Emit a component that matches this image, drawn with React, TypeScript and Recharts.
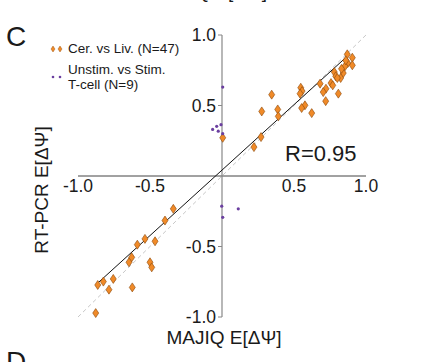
import {
  ScatterChart,
  Scatter,
  XAxis,
  YAxis,
  ReferenceLine,
  ReferenceDot,
} from "recharts";

// Cer. vs Liv. (N=47): MAJIQ vs RT-PCR dPSI
const cerLivX = [
  0.87, 0.905, 0.873, 0.905, 0.854, 0.78, 0.842, 0.79, 0.824, 0.801, 0.757,
  0.769, 0.722, 0.703, 0.681, 0.808, 0.72, 0.547, 0.556, 0.542, 0.576, 0.553,
  0.623, 0.83, 0.86, 0.005, 0.222, 0.271, 0.276, 0.345, 0.387, 0.391, -0.338,
  -0.396, -0.535, -0.465, -0.588, -0.627, -0.646, -0.5, -0.488, -0.755, -0.824,
  -0.863, -0.785, -0.623, -0.877,
];
const cerLivY = [
  0.863, 0.839, 0.801, 0.785, 0.778, 0.737, 0.73, 0.707, 0.695, 0.695, 0.659,
  0.643, 0.619, 0.595, 0.655, 0.584, 0.531, 0.626, 0.602, 0.584, 0.501, 0.482,
  0.446, 0.76, 0.82, 0.271, 0.205, 0.276, 0.458, 0.577, 0.472, 0.423, -0.233,
  -0.316, -0.446, -0.463, -0.487, -0.577, -0.612, -0.612, -0.648, -0.73,
  -0.749, -0.773, -0.806, -0.79, -0.972,
];

// Unstim. vs Stim. T-cell (N=9)
const tcellX = [0.005, -0.065, -0.037, -0.007, -0.026, 0.005, -0.002, 0.113, 0.005];
const tcellY = [0.631, 0.33, 0.352, 0.364, 0.318, 0.3, -0.214, -0.233, -0.293];

const xTicks = [-1, -0.5, 0.5, 1];
const yTicks = [1, 0.5, -0.5, -1];

// linear fit endpoints and identity line
const fitX = [-0.87, 0.877];
const fitY = [-0.766, 0.856];
const identity = [-1, 1];

const FONT = "'Liberation Sans', Arial, Helvetica, sans-serif";
const ORANGE = "#f08a28";
const ORANGE_EDGE = "#8a4608";
const PURPLE = "#6b3fa0";

const cerLivData = cerLivX.map((x, i) => ({ x, y: cerLivY[i] }));
const tcellData = tcellX.map((x, i) => ({ x, y: tcellY[i] }));

const Diamond = (p: any) => (
  <polygon
    points={`${p.cx},${p.cy - 4.5} ${p.cx + 3},${p.cy} ${p.cx},${p.cy + 4.5} ${p.cx - 3},${p.cy}`}
    fill={ORANGE}
    stroke={ORANGE_EDGE}
    strokeWidth={0.6}
  />
);

const SmallDot = (p: any) => <circle cx={p.cx} cy={p.cy} r={1.6} fill={PURPLE} />;

const fmt = (v: number) => v.toFixed(1);

const yTickShape = (v: number) => (p: any) => (
  <g>
    <line x1={p.cx - 4} y1={p.cy} x2={p.cx} y2={p.cy} stroke="#888" strokeWidth={1} />
    <text
      x={p.cx - 6}
      y={p.cy}
      dy="0.36em"
      textAnchor="end"
      fontSize={17.5}
      fontFamily={FONT}
      fill="#1a1a1a"
    >
      {fmt(v)}
    </text>
  </g>
);

const xTickShape = (v: number) => (p: any) => (
  <text
    x={p.cx}
    y={p.cy + 16}
    textAnchor="middle"
    fontSize={17.5}
    fontFamily={FONT}
    fill="#1a1a1a"
  >
    {fmt(v)}
  </text>
);

export default function App() {
  return (
    <div
      style={{
        position: "absolute",
        left: 0,
        top: 0,
        width: 424,
        height: 362,
        overflow: "hidden",
        background: "#fff",
        fontFamily: FONT,
        color: "#1a1a1a",
      }}
    >
      {/* cut-off label from panel above */}
      <div
        style={{ position: "absolute", left: 152, top: -19, fontSize: 19, whiteSpace: "nowrap" }}
      >
        MAJIQ E[ΔΨ]
      </div>
      <div style={{ position: "absolute", left: 6, top: 21, fontSize: 28 }}>C</div>
      <div style={{ position: "absolute", left: 6, top: 346, fontSize: 28 }}>D</div>

      <ScatterChart
        width={424}
        height={362}
        margin={{ top: 35, right: 58, bottom: 45, left: 78 }}
      >
        <XAxis type="number" dataKey="x" domain={[-1, 1]} hide />
        <YAxis type="number" dataKey="y" domain={[-1, 1]} hide />
        <ReferenceLine
          segment={[
            { x: identity[0], y: identity[0] },
            { x: identity[1], y: identity[1] },
          ]}
          stroke="#c8c8c8"
          strokeDasharray="4 3"
        />
        <ReferenceLine y={0} stroke="#444" strokeWidth={1} />
        <ReferenceLine x={0} stroke="#888" strokeWidth={1.2} />
        <ReferenceLine
          segment={[
            { x: fitX[0], y: fitY[0] },
            { x: fitX[1], y: fitY[1] },
          ]}
          stroke="#111"
          strokeWidth={1}
        />
        {xTicks.map((t) => (
          <ReferenceDot key={"x" + t} x={t} y={0} r={0} shape={xTickShape(t)} />
        ))}
        {yTicks.map((t) => (
          <ReferenceDot key={"y" + t} x={0} y={t} r={0} shape={yTickShape(t)} />
        ))}
        <Scatter
          name="Cer. vs Liv. (N=47)"
          data={cerLivData}
          shape={Diamond}
          isAnimationActive={false}
        />
        <Scatter
          name="Unstim. vs Stim. T-cell (N=9)"
          data={tcellData}
          shape={SmallDot}
          isAnimationActive={false}
        />
      </ScatterChart>

      {/* legend */}
      <div style={{ position: "absolute", left: 48, top: 41, fontSize: 13.5, lineHeight: "15.5px" }}>
        <div style={{ display: "flex", alignItems: "center" }}>
          <svg width={20} height={12}>
            <polygon points="5,3 7,6 5,9 3,6" fill={ORANGE} stroke={ORANGE_EDGE} strokeWidth={0.4} />
            <polygon points="12,3 14,6 12,9 10,6" fill={ORANGE} stroke={ORANGE_EDGE} strokeWidth={0.4} />
          </svg>
          <span>Cer. vs Liv. (N=47)</span>
        </div>
        <div style={{ display: "flex", alignItems: "center", marginTop: 5 }}>
          <svg width={20} height={12}>
            <circle cx={5} cy={6} r={1.3} fill={PURPLE} />
            <circle cx={12} cy={6} r={1.3} fill={PURPLE} />
          </svg>
          <span style={{ lineHeight: "15.5px" }}>
            Unstim. vs Stim.
            <br />
            T-cell (N=9)
          </span>
        </div>
      </div>

      <div
        style={{
          position: "absolute",
          left: 42,
          top: 190,
          fontSize: 19,
          whiteSpace: "nowrap",
          transform: "translate(-50%, -50%) rotate(-90deg)",
        }}
      >
        RT-PCR E[ΔΨ]
      </div>
      <div
        style={{
          position: "absolute",
          left: 224,
          top: 327,
          fontSize: 19,
          whiteSpace: "nowrap",
          transform: "translateX(-50%)",
        }}
      >
        MAJIQ E[ΔΨ]
      </div>
      <div style={{ position: "absolute", left: 285, top: 141, fontSize: 22 }}>R=0.95</div>
    </div>
  );
}
